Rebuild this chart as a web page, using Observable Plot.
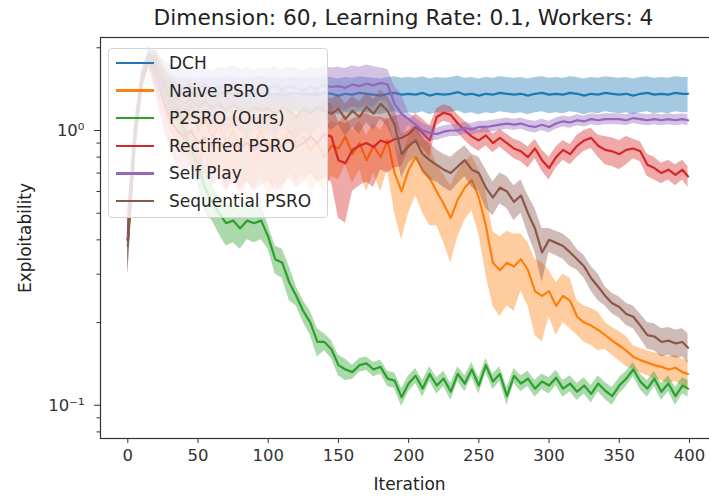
<!DOCTYPE html>
<html>
<head>
<meta charset="utf-8">
<script src="https://cdn.jsdelivr.net/npm/d3@7"></script>
<script src="https://cdn.jsdelivr.net/npm/@observablehq/plot@0.6"></script>
<style>
  body { margin: 0; background: #fff; }
  #chart { position: relative; width: 709px; height: 496px; overflow: hidden; font-family: "DejaVu Sans", sans-serif; }
  #legend { position: absolute; left: 108px; top: 48px; width: 220px; height: 170px; box-sizing: border-box;
            background: rgba(255,255,255,0.8); border: 1px solid #d3d3d3; border-radius: 4px; }
  .row { position: absolute; left: 0; height: 0; }
  .swatch { position: absolute; left: 7px; top: -1.2px; width: 38px; height: 2.4px; }
  .label { position: absolute; left: 60px; top: -11px; line-height: 22px; font-size: 17px; color: #262626; white-space: nowrap; }
</style>
</head>
<body>
<div id="chart"></div>
<script>
// Iterations sampled every 5 steps, plus the final iteration
const iterations = d3.range(0, 400, 5).concat([399]);

const seriesNames = ["DCH", "Naive PSRO", "P2SRO (Ours)", "Rectified PSRO", "Self Play", "Sequential PSRO"];
const seriesColors = ["#1f77b4", "#ff7f0e", "#2ca02c", "#d62728", "#9467bd", "#8c564b"];

// Mean exploitability per sampled iteration (rows of 10 = 50 iterations)
const dch = [
  0.40,0.95,1.55,1.90,1.75,1.50,1.40,1.37,1.35,1.36,
  1.34,1.37,1.35,1.36,1.38,1.35,1.36,1.34,1.36,1.37,
  1.35,1.36,1.34,1.36,1.37,1.35,1.36,1.35,1.37,1.36,
  1.34,1.36,1.35,1.37,1.36,1.35,1.34,1.36,1.37,1.35,
  1.36,1.35,1.37,1.34,1.36,1.35,1.36,1.38,1.35,1.36,
  1.34,1.36,1.35,1.37,1.36,1.35,1.36,1.34,1.36,1.37,
  1.35,1.36,1.35,1.37,1.36,1.34,1.36,1.35,1.37,1.36,
  1.35,1.36,1.34,1.36,1.37,1.35,1.36,1.35,1.37,1.36,
  1.36];
const naivePsro = [
  0.40,0.90,1.50,1.80,1.70,1.50,1.30,1.20,1.10,1.25,
  1.00,1.10,0.95,1.05,0.90,1.00,0.85,0.95,0.90,1.00,
  0.85,0.95,0.88,1.00,0.90,0.95,0.85,0.90,0.80,0.88,
  0.86,0.95,0.82,0.90,0.78,0.88,0.80,0.92,0.70,0.60,
  0.72,0.80,0.72,0.67,0.60,0.54,0.48,0.56,0.62,0.66,
  0.57,0.45,0.33,0.31,0.33,0.32,0.34,0.31,0.26,0.25,
  0.26,0.23,0.25,0.24,0.21,0.20,0.195,0.188,0.18,0.172,
  0.165,0.158,0.150,0.146,0.143,0.140,0.138,0.135,0.137,0.132,
  0.130];
const p2sro = [
  0.38,0.90,1.50,1.85,1.70,1.50,1.30,1.20,1.00,0.85,
  0.75,0.62,0.55,0.50,0.46,0.47,0.44,0.47,0.46,0.47,
  0.41,0.34,0.33,0.28,0.25,0.22,0.20,0.17,0.17,0.16,
  0.140,0.135,0.132,0.140,0.142,0.135,0.138,0.125,0.123,0.107,
  0.120,0.128,0.115,0.130,0.118,0.125,0.112,0.130,0.120,0.135,
  0.118,0.140,0.122,0.130,0.108,0.128,0.120,0.125,0.115,0.122,
  0.118,0.126,0.115,0.120,0.112,0.118,0.110,0.120,0.113,0.108,
  0.118,0.125,0.135,0.122,0.115,0.125,0.112,0.120,0.108,0.118,
  0.115];
const rectifiedPsro = [
  0.42,1.00,1.50,1.80,1.60,1.30,1.10,1.00,0.95,1.00,
  0.90,0.95,0.88,0.92,0.85,0.90,0.86,0.90,0.85,0.88,
  0.90,0.85,0.88,0.92,0.87,0.90,0.95,0.90,0.97,0.95,
  0.78,0.76,0.85,0.88,0.90,0.87,0.92,0.90,0.93,0.94,
  0.97,1.03,0.98,0.92,1.12,1.16,1.14,1.06,1.00,0.95,
  0.92,0.96,0.90,0.94,0.90,0.86,0.84,0.80,0.86,0.78,
  0.73,0.80,0.85,0.82,0.88,0.92,0.94,0.88,0.85,0.84,
  0.82,0.85,0.86,0.84,0.75,0.73,0.70,0.72,0.69,0.72,
  0.68];
const selfPlay = [
  0.40,1.00,1.60,1.85,1.70,1.55,1.50,1.45,1.40,1.45,
  1.42,1.48,1.40,1.45,1.43,1.47,1.42,1.45,1.40,1.44,
  1.42,1.46,1.41,1.45,1.43,1.40,1.44,1.42,1.46,1.44,
  1.45,1.43,1.47,1.45,1.48,1.46,1.49,1.47,1.25,1.15,
  1.10,1.05,1.00,0.98,0.97,0.99,1.00,1.00,1.02,1.01,
  1.03,1.03,1.04,1.05,1.06,1.05,1.06,1.04,1.03,1.05,
  1.03,1.06,1.08,1.07,1.09,1.08,1.10,1.09,1.10,1.10,
  1.10,1.09,1.11,1.10,1.09,1.10,1.09,1.10,1.09,1.10,
  1.09];
const sequentialPsro = [
  0.40,0.95,1.55,1.80,1.70,1.50,1.35,1.30,1.25,1.30,
  1.22,1.28,1.20,1.25,1.18,1.24,1.20,1.15,1.22,1.18,
  1.20,1.15,1.22,1.18,1.12,1.20,1.15,1.22,1.18,1.15,
  1.20,1.10,1.18,1.12,1.22,1.15,1.25,1.18,1.05,0.82,
  0.88,0.92,0.82,0.78,0.75,0.72,0.70,0.74,0.78,0.72,
  0.70,0.62,0.57,0.62,0.60,0.55,0.58,0.50,0.44,0.36,
  0.40,0.39,0.38,0.36,0.34,0.32,0.29,0.27,0.25,0.235,
  0.228,0.215,0.21,0.195,0.18,0.178,0.17,0.172,0.168,0.17,
  0.162];

// Standard deviation across seeds, one value per 20-iteration block
const dchStd        = [0.10,0.20,0.20,0.20,0.20,0.20,0.20,0.20,0.20,0.20,0.20,0.20,0.20,0.20,0.20,0.20,0.20,0.20,0.20,0.20];
const naiveStd      = [0.10,0.30,0.30,0.30,0.30,0.30,0.25,0.20,0.18,0.20,0.22,0.15,0.15,0.10,0.08,0.05,0.03,0.02,0.015,0.015];
const p2sroStd      = [0.05,0.15,0.12,0.08,0.07,0.04,0.02,0.012,0.008,0.008,0.008,0.008,0.008,0.008,0.008,0.008,0.008,0.008,0.008,0.008];
const rectifiedStd  = [0.10,0.25,0.25,0.25,0.25,0.25,0.25,0.30,0.25,0.20,0.12,0.08,0.08,0.07,0.07,0.07,0.08,0.10,0.07,0.06];
const selfPlayStd   = [0.10,0.25,0.25,0.25,0.25,0.25,0.25,0.25,0.25,0.20,0.06,0.05,0.05,0.05,0.05,0.05,0.05,0.05,0.05,0.05];
const sequentialStd = [0.10,0.20,0.20,0.20,0.20,0.20,0.20,0.15,0.15,0.15,0.12,0.10,0.10,0.08,0.08,0.04,0.03,0.02,0.02,0.02];

const xTicks = [0, 50, 100, 150, 200, 250, 300, 350, 400];
const yMajorTicks = [0.1, 1];
const yMajorLabels = ["10⁻¹", "10⁰"];
const yMinorTicks = [0.08, 0.09, 0.2, 0.3, 0.4, 0.5, 0.6, 0.7, 0.8, 0.9, 2];

const titleText = "Dimension: 60, Learning Rate: 0.1, Workers: 4";
const xLabel = "Iteration";
const yLabel = "Exploitability";

const means = [dch, naivePsro, p2sro, rectifiedPsro, selfPlay, sequentialPsro];
const stds = [dchStd, naiveStd, p2sroStd, rectifiedStd, selfPlayStd, sequentialStd];

const seriesRows = seriesNames.map((name, k) => iterations.map((it, i) => {
  const v = means[k][i];
  const s = stds[k][Math.min(19, Math.floor(it / 20))];
  return {name, it, v, lo: Math.max(v - s, v * 0.3), hi: v + s};
}));

const seriesMarks = seriesRows.flatMap((rows, k) => [
  Plot.areaY(rows, {x: "it", y1: "lo", y2: "hi", fill: seriesColors[k], fillOpacity: 0.4, clip: true}),
  Plot.lineY(rows, {x: "it", y: "v", stroke: seriesColors[k], strokeWidth: 2.2, clip: true})
]);

const chart = Plot.plot({
  width: 709,
  height: 496,
  marginLeft: 100,
  marginRight: -3,
  marginTop: 37,
  marginBottom: 58,
  style: {fontFamily: "DejaVu Sans", fontSize: "16.5px", color: "#333", background: "#fff"},
  x: {domain: [-19.44, 416.4]},
  y: {type: "log", domain: [0.0757, 2.18]},
  marks: [
    ...seriesMarks,
    Plot.axisX({ticks: xTicks, tickSize: 5, tickPadding: 6, label: null, stroke: "#333"}),
    Plot.axisY({ticks: yMajorTicks, tickSize: 6, tickPadding: 10, label: null, stroke: "#333",
                tickFormat: d => yMajorLabels[yMajorTicks.indexOf(d)]}),
    Plot.axisY({ticks: yMinorTicks, tickSize: 3.5, label: null, stroke: "#333", tickFormat: () => ""}),
    Plot.frame({stroke: "#333", strokeWidth: 1.2}),
    Plot.text([titleText], {text: d => d, frameAnchor: "top", lineAnchor: "middle", dy: -19, dx: -3, fontSize: 21.7, fill: "#222"}),
    Plot.text([xLabel], {text: d => d, frameAnchor: "bottom", lineAnchor: "middle", dy: 46, dx: 3, fontSize: 17, fill: "#222"}),
    Plot.text([yLabel], {text: d => d, frameAnchor: "left", textAnchor: "middle", lineAnchor: "middle", rotate: -90, dx: -75, fontSize: 17, fill: "#222"})
  ]
});

const container = document.getElementById("chart");
container.appendChild(chart);

// Legend box in the upper-left corner of the axes
const legend = document.createElement("div");
legend.id = "legend";
seriesNames.forEach((name, k) => {
  const row = document.createElement("div");
  row.className = "row";
  row.style.top = (14 + k * 27.6) + "px";
  const sw = document.createElement("div");
  sw.className = "swatch";
  sw.style.background = seriesColors[k];
  const lab = document.createElement("div");
  lab.className = "label";
  lab.textContent = name;
  row.appendChild(sw);
  row.appendChild(lab);
  legend.appendChild(row);
});
container.appendChild(legend);
</script>
</body>
</html>
